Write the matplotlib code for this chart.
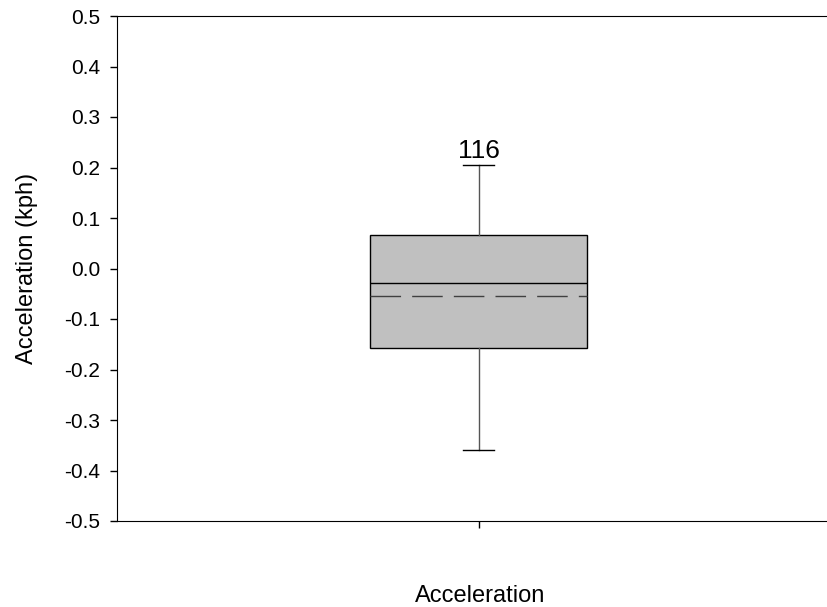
import matplotlib.pyplot as plt

plt.rcParams['font.family'] = ['Liberation Sans', 'DejaVu Sans']

# summary of the acceleration sample
label = 'Acceleration'
n_obs = 116
q1, median, q3 = -0.157, -0.029, 0.066
mean = -0.054
whisker_low, whisker_high = -0.360, 0.205
yticks = [-0.5, -0.4, -0.3, -0.2, -0.1, 0.0, 0.1, 0.2, 0.3, 0.4, 0.5]

fig = plt.figure(figsize=(8.28, 6.07), dpi=100)
ax = fig.add_axes([117 / 828, 1 - 521 / 607, 709 / 828, 505 / 607])

stats = [{
    'label': label, 'med': median, 'q1': q1, 'q3': q3,
    'whislo': whisker_low, 'whishi': whisker_high, 'mean': mean, 'fliers': [],
}]
ax.bxp(stats, positions=[1], widths=0.6, showmeans=True, meanline=True,
       patch_artist=True, capwidths=0.085,
       boxprops=dict(facecolor='#c0c0c0', edgecolor='black', linewidth=1),
       medianprops=dict(color='black', linewidth=1),
       meanprops=dict(color='#404040', linewidth=1, linestyle=(0, (22, 8))),
       whiskerprops=dict(color='#555555', linewidth=1),
       capprops=dict(color='black', linewidth=1))

ax.text(1, whisker_high + 0.003, str(n_obs), ha='center', va='bottom', fontsize=19)

ax.set_xlim(0, 1.96)
ax.set_ylim(-0.5, 0.5)
ax.set_yticks(yticks)
ax.set_yticklabels([f'{v:.1f}' for v in yticks])
ax.set_xticks([1])
ax.set_xticklabels([''])
ax.spines['right'].set_visible(False)
ax.tick_params(axis='both', direction='out', length=5, width=1, labelsize=15, pad=7)
ax.set_ylabel('Acceleration (kph)', fontsize=17)
ax.set_xlabel(label, fontsize=17)
ax.yaxis.set_label_coords(-0.111, 0.5)
ax.xaxis.set_label_coords(0.512, -0.127)

fig.savefig('out.png', dpi=100)
